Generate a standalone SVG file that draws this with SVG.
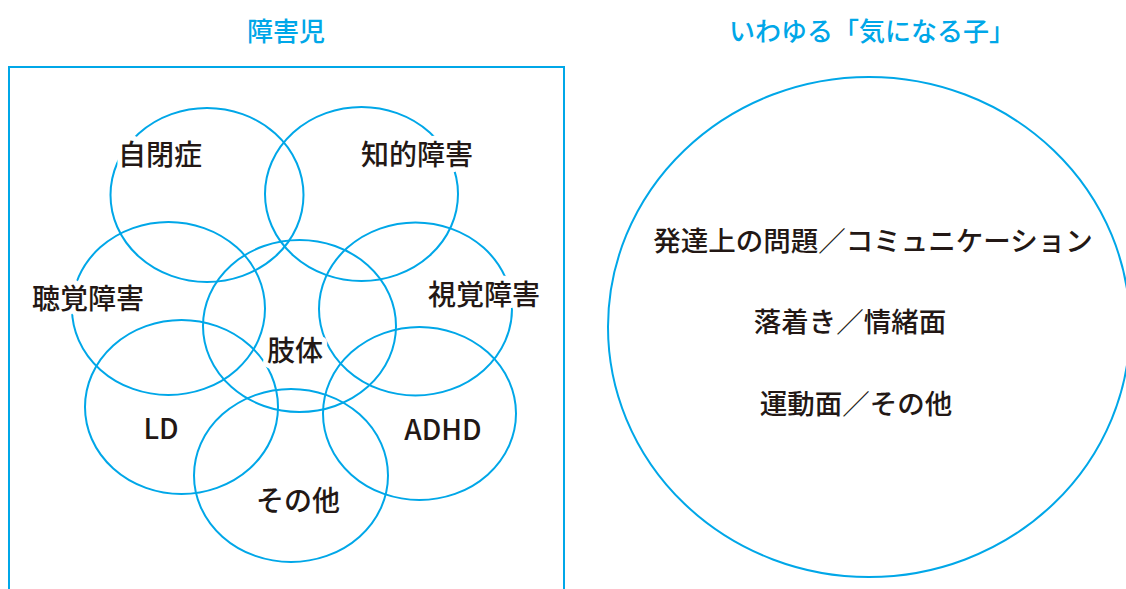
<svg xmlns="http://www.w3.org/2000/svg" width="1126" height="589" viewBox="0 0 1126 589">
<style>
.ln{fill:none;stroke:#00a7e8;stroke-width:2}
.ttl{font-family:"Noto Sans CJK JP","Noto Sans",sans-serif;font-size:26px;font-weight:500;fill:#00a7e8;text-anchor:middle}
.lb{font-family:"Noto Sans CJK JP","Noto Sans",sans-serif;font-size:28px;font-weight:500;fill:#231815;text-anchor:middle;stroke:#ffffff;stroke-width:10;stroke-linejoin:round;paint-order:stroke}
.lr{font-size:27.5px}
</style>
<rect width="1126" height="589" fill="#ffffff"/>
<g id="title-left"><text class="ttl" x="286" y="41">障害児</text></g>
<g id="title-right"><text class="ttl" x="872" y="41">いわゆる「気になる子」</text></g>
<g id="frame-left"><rect class="ln" x="9" y="67" width="555" height="540"/></g>
<g id="n-autism"><ellipse class="ln" cx="207" cy="195" rx="96.5" ry="87"/><text class="lb" x="160" y="165">自閉症</text></g>
<g id="n-intellectual"><ellipse class="ln" cx="361.5" cy="194" rx="96.5" ry="87"/><text class="lb" x="417" y="165">知的障害</text></g>
<g id="n-hearing"><ellipse class="ln" cx="168.5" cy="308.5" rx="96.5" ry="86.5"/><text class="lb" x="88" y="309">聴覚障害</text></g>
<g id="n-visual"><ellipse class="ln" cx="415.5" cy="309" rx="96.5" ry="86.5"/><text class="lb" x="484" y="305">視覚障害</text></g>
<g id="n-ld"><ellipse class="ln" cx="181.5" cy="407" rx="96.5" ry="87"/><text class="lb" x="161" y="439">LD</text></g>
<g id="n-adhd"><ellipse class="ln" cx="419.5" cy="413.5" rx="96.5" ry="86.5"/><text class="lb" x="443" y="440">ADHD</text></g>
<g id="n-other"><ellipse class="ln" cx="291" cy="475.5" rx="97" ry="86.5"/><text class="lb" x="298" y="511">その他</text></g>
<g id="n-physical"><ellipse class="ln" cx="299.5" cy="326" rx="96.5" ry="86"/><text class="lb" x="295" y="361">肢体</text></g>
<g id="n-kininaru"><ellipse class="ln" cx="869" cy="327" rx="261" ry="250"/>
<text class="lb lr" x="873" y="251">発達上の問題／コミュニケーション</text>
<text class="lb lr" x="850" y="332">落着き／情緒面</text>
<text class="lb lr" x="856" y="414">運動面／その他</text></g>
</svg>
